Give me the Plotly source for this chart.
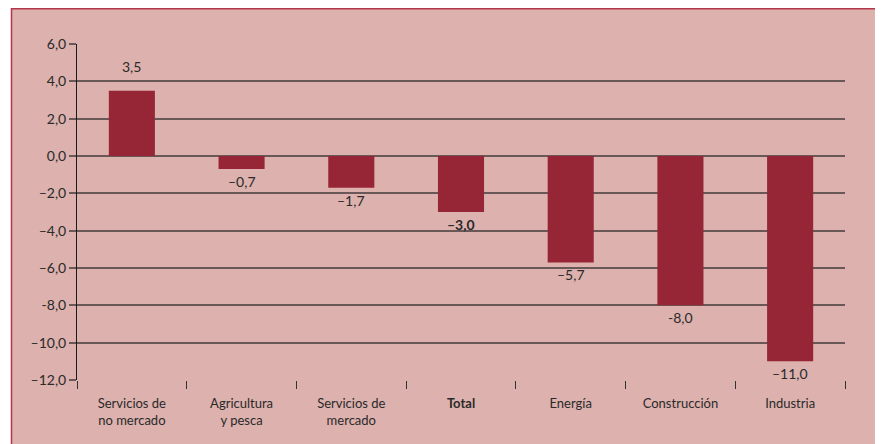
import plotly.graph_objects as go

categories = ["Servicios de<br>no mercado", "Agricultura<br>y pesca", "Servicios de<br>mercado",
              "<b>Total</b>", "Energía", "Construcción", "Industria"]
values = [3.5, -0.7, -1.7, -3.0, -5.7, -8.0, -11.0]
value_labels = ["3,5", "–0,7", "–1,7", "<b>–3,0</b>", "–5,7", "-8,0", "–11,0"]
tick_vals = [6, 4, 2, 0, -2, -4, -6, -8, -10, -12]
tick_text = ["6,0", "4,0", "2,0", "0,0", "–2,0", "–4,0", "–6,0", "-8,0", "–10,0", "–12,0"]

OFF = 8  # page body margin
W, H = 875, 436
L, R, T, B = 69, 38, 36, 64
pw, ph = W - L - R, H - T - B

def px_x(p):
    return (p - OFF - L) / pw

def px_y(p):
    return (H - B - (p - OFF)) / ph

BG = "#DDB1AD"
BAR = "#962635"
GRID = "#6a5858"
FONT = "Lato, 'Open Sans', sans-serif"

fig = go.Figure()
fig.add_trace(go.Bar(x=categories, y=values, marker=dict(color=BAR, line=dict(width=0)),
                     width=0.42, hoverinfo="skip"))

for c, v, t in zip(categories, values, value_labels):
    fig.add_annotation(x=c, y=v, text=t, showarrow=False,
                       yanchor="bottom" if v > 0 else "top",
                       yshift=14 if v > 0 else -2,
                       font=dict(size=14, color="#2a2a2a", family=FONT))

shapes = [
    dict(type="rect", xref="paper", yref="paper", x0=px_x(11.5), x1=px_x(W + 60), y0=px_y(H + 60), y1=px_y(8.7),
         fillcolor=BG, line=dict(color="#B3374A", width=1.5), layer="below"),
]

fig.update_layout(
    width=W, height=H,
    margin=dict(l=L, r=R, t=T, b=B, autoexpand=False),
    paper_bgcolor="white", plot_bgcolor=BG,
    showlegend=False,
    shapes=shapes,
    font=dict(family=FONT, size=13, color="#2a2a2a"),
    xaxis=dict(type="category", tickson="boundaries", ticks="outside", ticklen=8, tickwidth=1,
               tickcolor="#333333", showgrid=False, showline=False, zeroline=False,
               ticklabelstandoff=14,
               tickfont=dict(size=13, color="#2a2a2a", family=FONT)),
    yaxis=dict(range=[-12, 6], tickvals=tick_vals, ticktext=tick_text, ticks="outside", ticklen=7,
               tickcolor=GRID, tickwidth=1.5,
               showgrid=True, gridcolor=GRID, gridwidth=1.5,
               zeroline=True, zerolinecolor=GRID, zerolinewidth=1.5,
               showline=True, linecolor="#1a1a1a", linewidth=1,
               tickfont=dict(size=14, color="#2a2a2a", family=FONT)),
)

fig.write_html("out.html", post_script="document.body.style.overflow='hidden';")
